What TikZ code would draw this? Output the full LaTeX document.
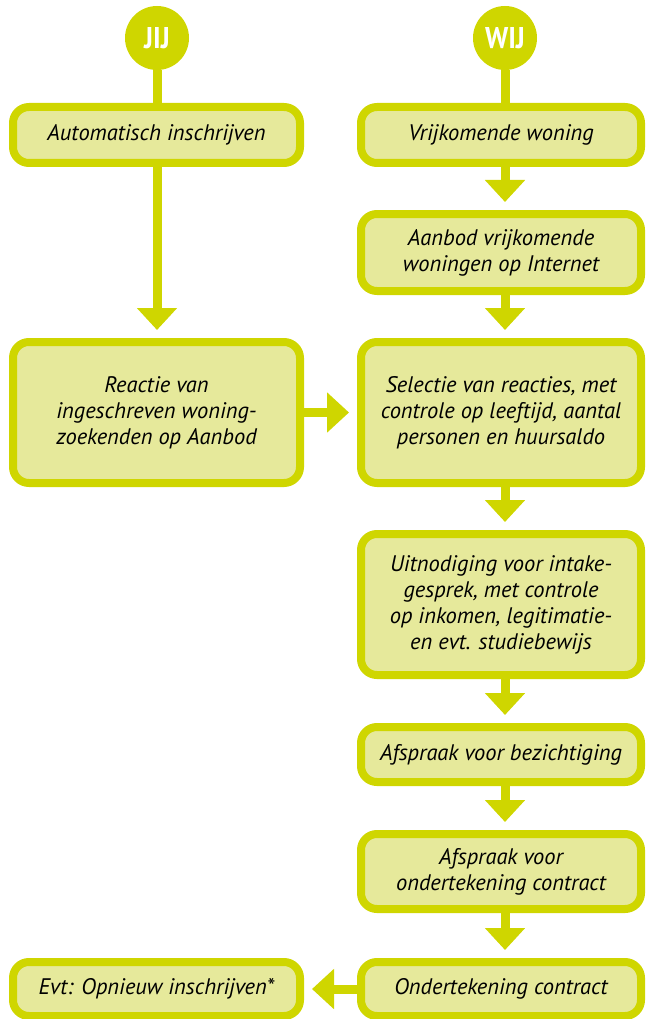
\documentclass[tikz,border=0pt]{standalone}
\usepackage{fontspec}
\setmainfont{PT Sans}
\newfontfamily\labelfont[FakeStretch=0.9]{PT Sans}
\usetikzlibrary{arrows.meta}
\definecolor{lime}{RGB}{207,214,0}
\definecolor{limefill}{RGB}{230,233,155}
\tikzset{
  box/.style={draw=lime, fill=limefill, line width=8pt, rounded corners=16pt,
    align=center, font=\fontsize{22.5}{26}\selectfont\itshape, inner sep=0pt, text=black},
  flow/.style={draw=lime, line width=9pt, shorten >=8pt,
    -{Triangle[width=39pt,length=22pt]}},
  stem/.style={draw=lime, line width=9pt},
  who/.style={circle, fill=lime, minimum size=64pt, inner sep=0pt, text=white,
    font=\labelfont\fontsize{30}{30}\selectfont\bfseries}
}
\begin{document}
\begin{tikzpicture}[x=1pt,y=-1pt]
\useasboundingbox (0,0) rectangle (645,1019);
% left column
\node[who] (jij) at (157,38) {JIJ};
\node[box, minimum width=287pt, minimum height=56pt] (auto) at (156.5,135) {Automatisch inschrijven};
\node[box, minimum width=287pt, minimum height=141pt] (reactie) at (156.5,412.5) {Reactie van\\ingeschreven woning-\\zoekenden op Aanbod};
\node[box, minimum width=287pt, minimum height=54pt] (evt) at (156.5,989) {Evt: Opnieuw inschrijven*};
% right column
\node[who] (wij) at (505,38) {WIJ};
\node[box, minimum width=280pt, minimum height=56pt] (vrij) at (501,135) {Vrijkomende woning};
\node[box, minimum width=280pt, minimum height=77pt] (aanbod) at (501,252.5) {Aanbod vrijkomende\\woningen op Internet};
\node[box, minimum width=280pt, minimum height=141pt] (selectie) at (501,412.5) {Selectie van reacties, met\\controle op leeftijd, aantal\\personen en huursaldo};
\node[box, minimum width=280pt, minimum height=141pt] (uitnod) at (501,604.5) {Uitnodiging voor intake-\\gesprek, met controle\\op inkomen, legitimatie-\\en evt. studiebewijs};
\node[box, minimum width=280pt, minimum height=55pt] (bezicht) at (501,754.5) {Afspraak voor bezichtiging};
\node[box, minimum width=280pt, minimum height=75pt] (afspr) at (501,871.5) {Afspraak voor\\ondertekening contract};
\node[box, minimum width=280pt, minimum height=54pt] (onder) at (501,989) {Ondertekening contract};
% stems
\draw[stem] (jij.south) -- (jij |- auto.north);
\draw[stem] (wij.south) -- (wij |- vrij.north);
% arrows
\draw[flow] (jij |- auto.south) -- (jij |- reactie.north);
\draw[flow] (wij |- vrij.south) -- (wij |- aanbod.north);
\draw[flow] (wij |- aanbod.south) -- (wij |- selectie.north);
\draw[flow] (wij |- selectie.south) -- (wij |- uitnod.north);
\draw[flow] (wij |- uitnod.south) -- (wij |- bezicht.north);
\draw[flow] (wij |- bezicht.south) -- (wij |- afspr.north);
\draw[flow] (wij |- afspr.south) -- (wij |- onder.north);
\draw[flow] (reactie.east) -- (selectie.west);
\draw[flow] (onder.west) -- (evt.east);
\end{tikzpicture}
\end{document}
